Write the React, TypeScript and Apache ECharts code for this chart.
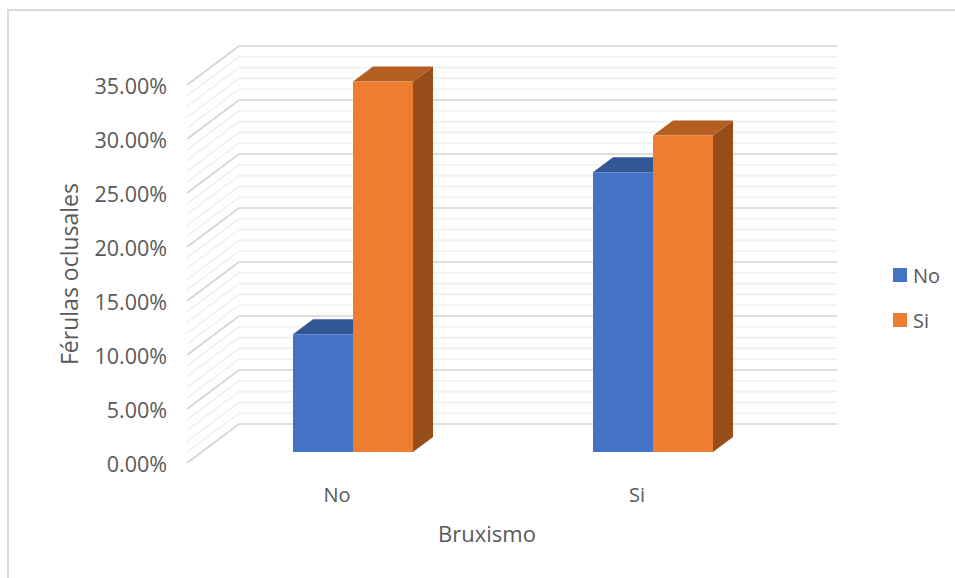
import React, { useEffect, useRef } from "react";
import * as echarts from "echarts";

const categories = ["No", "Si"];
const seriesNames = ["No", "Si"];
const valuesNo = [10.9, 25.9];
const valuesSi = [34.3, 29.3];
const yMax = 35;
const yStep = 5;
const wallTicks = Array.from({ length: yMax + 1 }, (_, i) => i);

const FONT = "'Open Sans', sans-serif";
const TEXT = "#595959";

// Oblique projection used for the floor, walls and bar depth.
const WALL_DX = 52;
const WALL_DY = 39;
const BAR_PLANE_DX = 16;
const BAR_PLANE_DY = 11;
const BAR_DEPTH_DX = 20;
const BAR_DEPTH_DY = 15;
const BAR_WIDTH = 60;
const WALL_TRIM = 2;

const palette = [
  { front: "#4472C4", top: "#335694", side: "#2A4A80" },
  { front: "#ED7D31", top: "#B45E22", side: "#974E1A" },
];

function renderWall(params: any, api: any) {
  const v = api.value(0);
  const major = v % yStep === 0;
  const base = api.coord([0, v]);
  const x0 = params.coordSys.x;
  const x1 = x0 + params.coordSys.width;
  const backY = base[1] - WALL_DY;
  return {
    type: "polyline",
    silent: true,
    shape: {
      points: [
        [x0, base[1]],
        [x0 + WALL_DX, backY],
        [x1 + WALL_DX - WALL_TRIM, backY],
      ],
    },
    style: {
      fill: "none",
      stroke: major ? "#D4D4D4" : "#F0F0F0",
      lineWidth: 1.6,
    },
    z2: major ? 2 : 1,
  };
}

function makeBarRenderer(seriesIndex: number) {
  const colors = palette[seriesIndex];
  return (_params: any, api: any) => {
    const cat = api.value(0);
    const val = api.value(1);
    const center = api.coord([cat, 0]);
    const top = api.coord([cat, val]);
    const xLeft = center[0] + BAR_PLANE_DX + (seriesIndex - 1) * BAR_WIDTH;
    const xRight = xLeft + BAR_WIDTH;
    const yBase = center[1] - BAR_PLANE_DY;
    const yTop = top[1] - BAR_PLANE_DY;
    const dx = BAR_DEPTH_DX;
    const dy = BAR_DEPTH_DY;
    return {
      type: "group",
      children: [
        {
          type: "polygon",
          shape: {
            points: [
              [xRight, yTop],
              [xRight + dx, yTop - dy],
              [xRight + dx, yBase - dy],
              [xRight, yBase],
            ],
          },
          style: { fill: colors.side },
        },
        {
          type: "polygon",
          shape: {
            points: [
              [xLeft, yTop],
              [xLeft + dx, yTop - dy],
              [xRight + dx, yTop - dy],
              [xRight, yTop],
            ],
          },
          style: { fill: colors.top },
        },
        {
          type: "rect",
          shape: { x: xLeft, y: yTop, width: BAR_WIDTH, height: yBase - yTop },
          style: { fill: colors.front },
        },
      ],
    };
  };
}

export default function App() {
  const ref = useRef<HTMLDivElement>(null);

  useEffect(() => {
    if (!ref.current) return;
    const chart = echarts.init(ref.current, undefined, { renderer: "svg" });
    chart.setOption({
      animation: false,
      backgroundColor: "#ffffff",
      grid: { left: 187, top: 85, width: 600, height: 378 },
      textStyle: { fontFamily: FONT },
      xAxis: {
        type: "category",
        data: categories,
        axisLine: { show: false },
        axisTick: { show: false },
        splitLine: { show: false },
        axisLabel: { color: TEXT, fontFamily: FONT, fontSize: 20, margin: 21 },
        name: "Bruxismo",
        nameLocation: "middle",
        nameGap: 59,
        nameTextStyle: { color: TEXT, fontFamily: FONT, fontSize: 22 },
      },
      yAxis: {
        type: "value",
        min: 0,
        max: yMax,
        interval: yStep,
        axisLine: { show: false },
        axisTick: { show: false },
        splitLine: { show: false },
        axisLabel: {
          color: TEXT,
          fontFamily: FONT,
          fontSize: 21.5,
          margin: 20,
          formatter: (v: number) => `${v.toFixed(2)}%`,
        },
        name: "Férulas oclusales",
        nameLocation: "middle",
        nameGap: 107,
        nameTextStyle: { color: TEXT, fontFamily: FONT, fontSize: 23 },
      },
      legend: {
        orient: "vertical",
        left: 888,
        top: 260,
        itemWidth: 14,
        itemHeight: 14,
        itemGap: 25,
        icon: "rect",
        data: seriesNames.map((name, i) => ({
          name,
          itemStyle: { color: palette[i].front },
        })),
        textStyle: { color: TEXT, fontFamily: FONT, fontSize: 20, padding: [0, 0, 0, 1] },
      },
      graphic: [
        {
          type: "polyline",
          silent: true,
          shape: { points: [[8, 578], [8, 10], [955, 10]] },
          style: { fill: "none", stroke: "#D9D9D9", lineWidth: 2 },
        },
      ],
      series: [
        {
          type: "custom",
          name: "wall",
          data: wallTicks.map((v) => [v]),
          encode: { y: 0 },
          renderItem: renderWall,
          clip: false,
          silent: true,
          z: 1,
        },
        {
          type: "custom",
          name: seriesNames[0],
          data: valuesNo.map((v, i) => [i, v]),
          encode: { x: 0, y: 1 },
          renderItem: makeBarRenderer(0),
          clip: false,
          itemStyle: { color: palette[0].front },
          z: 2,
        },
        {
          type: "custom",
          name: seriesNames[1],
          data: valuesSi.map((v, i) => [i, v]),
          encode: { x: 0, y: 1 },
          renderItem: makeBarRenderer(1),
          clip: false,
          itemStyle: { color: palette[1].front },
          z: 3,
        },
      ],
    });
    return () => chart.dispose();
  }, []);

  return (
    <div
      ref={ref}
      style={{ position: "absolute", left: 0, top: 0, width: 955, height: 578 }}
    />
  );
}
